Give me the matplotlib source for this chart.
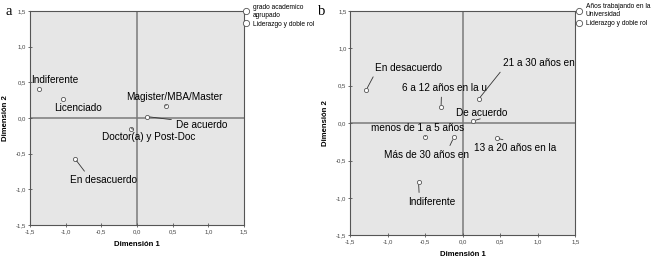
import matplotlib.pyplot as plt
from matplotlib.lines import Line2D

plt.rcParams['font.family'] = ['Liberation Sans', 'DejaVu Sans']

# panel a: grado academico + liderazgo
cats_a = ['Indiferente', 'Licenciado', 'Magister/MBA/Master', 'De acuerdo',
          'Doctor(a) y Post-Doc', 'En desacuerdo']
dim1_a = [-1.37, -1.04, 0.40, 0.14, -0.08, -0.87]
dim2_a = [0.41, 0.27, 0.17, 0.02, -0.15, -0.57]
# where the labels sit and where the leader line leaves the label (layout only)
lab_a = [(-1.16, 0.53), (-0.83, 0.14), (0.53, 0.29), (0.90, -0.10),
         (0.16, -0.27), (-0.47, -0.87)]
rel_a = [None, None, (0.5, 0), (0.0, 1), (0.48, 1), (0.26, 1)]
legend_a = ['grado academico\nagrupado', 'Liderazgo y doble rol']

# panel b: años trabajando + liderazgo
cats_b = ['En desacuerdo', '6 a 12 años en la u', '21 a 30 años en la u',
          'De acuerdo', 'menos de 1 a 5 años', 'Más de 30 años en',
          '13 a 20 años en la', 'Indiferente']
dim1_b = [-1.29, -0.29, 0.21, 0.14, -0.50, -0.12, 0.45, -0.59]
dim2_b = [0.44, 0.21, 0.32, 0.03, -0.18, -0.19, -0.20, -0.79]
lab_b = [(-0.72, 0.74), (-0.25, 0.47), (0.54, 0.80), (0.25, 0.13),
         (-0.60, -0.07), (-0.48, -0.42), (0.70, -0.33), (-0.41, -1.05)]
rel_b = [(0.0, 0), (0.47, 0), (0.0, 0), (0.5, 0), (0.58, 0), (0.75, 1),
         (0.5, 1), (0.23, 1)]
legend_b = ['Años trabajando en la\nUniversidad', 'Liderazgo y doble rol']

ticks = [-1.5, -1.0, -0.5, 0.0, 0.5, 1.0, 1.5]
tick_labels = ['-1,5', '-1,0', '-0,5', '0,0', '0,5', '1,0', '1,5']


def draw_panel(ax, cats, xs, ys, labs, rels, legend_names, leg_x, letter, letter_x):
    ax.set_facecolor('#e6e6e6')
    ax.axhline(0, color='#7a7a7a', lw=1.1, zorder=1)
    ax.axvline(0, color='#7a7a7a', lw=1.1, zorder=1)
    ax.scatter(xs, ys, s=9, facecolors='white', edgecolors='#555555',
               linewidths=0.6, zorder=3)
    for i, name in enumerate(cats):
        left = name.startswith('21')
        arrow = None
        if rels[i] is not None:
            arrow = dict(arrowstyle='-', color='#333333', lw=0.6,
                         shrinkA=1, shrinkB=2, relpos=rels[i])
        ax.annotate(name, xy=(xs[i], ys[i]), xytext=labs[i],
                    ha='left' if left else 'center',
                    va='center', fontsize=7.2, color='black', clip_on=True,
                    arrowprops=arrow)
    ax.set_xlim(-1.5, 1.5)
    ax.set_ylim(-1.5, 1.5)
    ax.set_xticks(ticks)
    ax.set_xticklabels(tick_labels)
    ax.set_yticks(ticks)
    ax.set_yticklabels(tick_labels)
    ax.tick_params(labelsize=4.3, labelcolor='#444444', length=2.5, width=0.6,
                   direction='inout', color='#555555', pad=1.5)
    for sp in ax.spines.values():
        sp.set_color('#555555')
        sp.set_linewidth(0.8)
    ax.set_xlabel('Dimensión 1', fontsize=5.6, fontweight='bold', labelpad=5)
    ax.set_ylabel('Dimensión 2', fontsize=5.6, fontweight='bold', labelpad=5)
    handles = [Line2D([], [], ls='', marker='o', ms=4.5, mfc='white',
                      mec='#555555', mew=0.6) for _ in legend_names]
    ax.legend(handles, legend_names, loc='upper left', bbox_to_anchor=(leg_x, 1.035),
              frameon=False, fontsize=4.8, handlelength=0.4, handletextpad=0.75,
              borderpad=0, borderaxespad=0, labelspacing=0.3)
    ax.figure.text(letter_x, 0.955, letter, family='Liberation Serif',
                   fontsize=10.5, ha='center', va='center')


fig = plt.figure(figsize=(6.55, 2.62), dpi=100)
ax_a = fig.add_axes([0.0458, 0.1412, 0.3267, 0.8168])
ax_b = fig.add_axes([0.5348, 0.1019, 0.3435, 0.8561])

draw_panel(ax_a, cats_a, dim1_a, dim2_a, lab_a, rel_a, legend_a, 1.004, 'a', 0.014)
draw_panel(ax_b, cats_b, dim1_b, dim2_b, lab_b, rel_b, legend_b, 1.012, 'b', 0.491)

fig.savefig('out.png', dpi=100)
